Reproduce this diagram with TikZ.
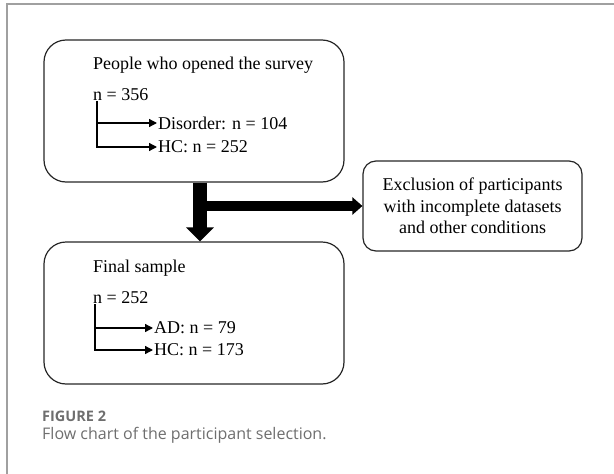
\documentclass[tikz,border=0pt]{standalone}
\usepackage{fontspec}
\setmainfont{Liberation Serif}
\newfontfamily\capfont{Open Sans}
\usetikzlibrary{arrows.meta,calc}

\definecolor{framegray}{HTML}{A0A0A0}
\definecolor{capgray}{HTML}{6E6E6E}

\begin{document}
\begin{tikzpicture}[x=1pt,y=-1pt]
		\begin{scope}
		
		\tikzstyle{stagebox}=[rectangle,
		draw=black!85,
		line width=1.2pt,
		rounded corners=22pt,
		inner sep=0pt,
		minimum width=300pt,
		minimum height=142pt
		]
		\tikzstyle{exclbox}=[rectangle,
		draw=black!85,
		line width=1.2pt,
		rounded corners=13pt,
		inner sep=0pt,
		minimum width=219pt,
		minimum height=90pt,
		align=center,
		font=\fontsize{18}{21.5}\selectfont
		]
		\tikzstyle{boxtext}=[anchor=west,
		inner sep=0pt,
		font=\fontsize{18}{20}\selectfont
		]
		\tikzstyle{branch}=[line width=1.3pt,
		-{Triangle[length=8pt,width=8pt]}
		]
		\tikzstyle{bigflow}=[line width=14pt,
		-{Triangle[length=14pt,width=27pt]}
		]
		
		\useasboundingbox (0,0) rectangle (614,474);
		
		% frame of the figure
		\draw[framegray, line width=1.5pt] (7,474) -- (7,4) -- (614,4);
		
		\coordinate (pb1) at (194, 111);
		\coordinate (pb2) at (194, 313);
		\coordinate (pex) at (472.5, 206);
		
		\coordinate (pt1) at (93, 65);
		\coordinate (pn1) at (93, 95);
		\coordinate (pd1) at (157, 123);
		\coordinate (ph1) at (157, 147);
		
		\coordinate (pt2) at (93, 268);
		\coordinate (pn2) at (93, 298);
		\coordinate (pd2) at (153, 328);
		\coordinate (ph2) at (153, 350);
		
		
		\node[stagebox] (b1) at (pb1) {};
		\node[stagebox] (b2) at (pb2) {};
		\node[exclbox] (ex) at (pex) {Exclusion of participants\\with incomplete datasets\\and other conditions};
		
		\node[boxtext] (t1) at (pt1) {People who opened the survey};
		\node[boxtext] (n1) at (pn1) {n = 356};
		\node[boxtext, inner sep=1pt] (d1) at (pd1) {Disorder: n = 104};
		\node[boxtext, inner sep=1pt] (h1) at (ph1) {HC: n = 252};
		
		\node[boxtext] (t2) at (pt2) {Final sample};
		\node[boxtext] (n2) at (pn2) {n = 252};
		\node[boxtext, inner sep=1pt] (d2) at (pd2) {AD: n = 79};
		\node[boxtext, inner sep=1pt] (h2) at (ph2) {HC: n = 173};
		
		
		\draw[branch] ($(n1.south west)+(4,0)$) |- (d1.west);
		\draw[branch] ($(n1.south west)+(4,0)$) |- (h1.west);
		\draw[branch] ($(n2.south west)+(2,0)$) |- (d2.west);
		\draw[branch] ($(n2.south west)+(2,0)$) |- (h2.west);
		
		% thick flow arrows
		\coordinate (f1) at ($(b1.south)+(6,0)$);
		\draw[bigflow] (f1) -- (f1 |- b2.north);
		\draw[line width=10pt, -{Triangle[length=10pt,width=17pt]}] (f1 |- ex.west) -- (ex.west);
		

		\node[anchor=west, inner sep=0pt, text=capgray, font=\capfont\bfseries\fontsize{14.5}{16}\selectfont] (fig) at (42, 416) {FIGURE 2};
		\node[anchor=west, inner sep=0pt, text=capgray, font=\capfont\fontsize{16}{19}\selectfont] (cap) at (42, 435) {Flow chart of the participant selection.};
		
		\end{scope}
		\end{tikzpicture}
\end{document}
